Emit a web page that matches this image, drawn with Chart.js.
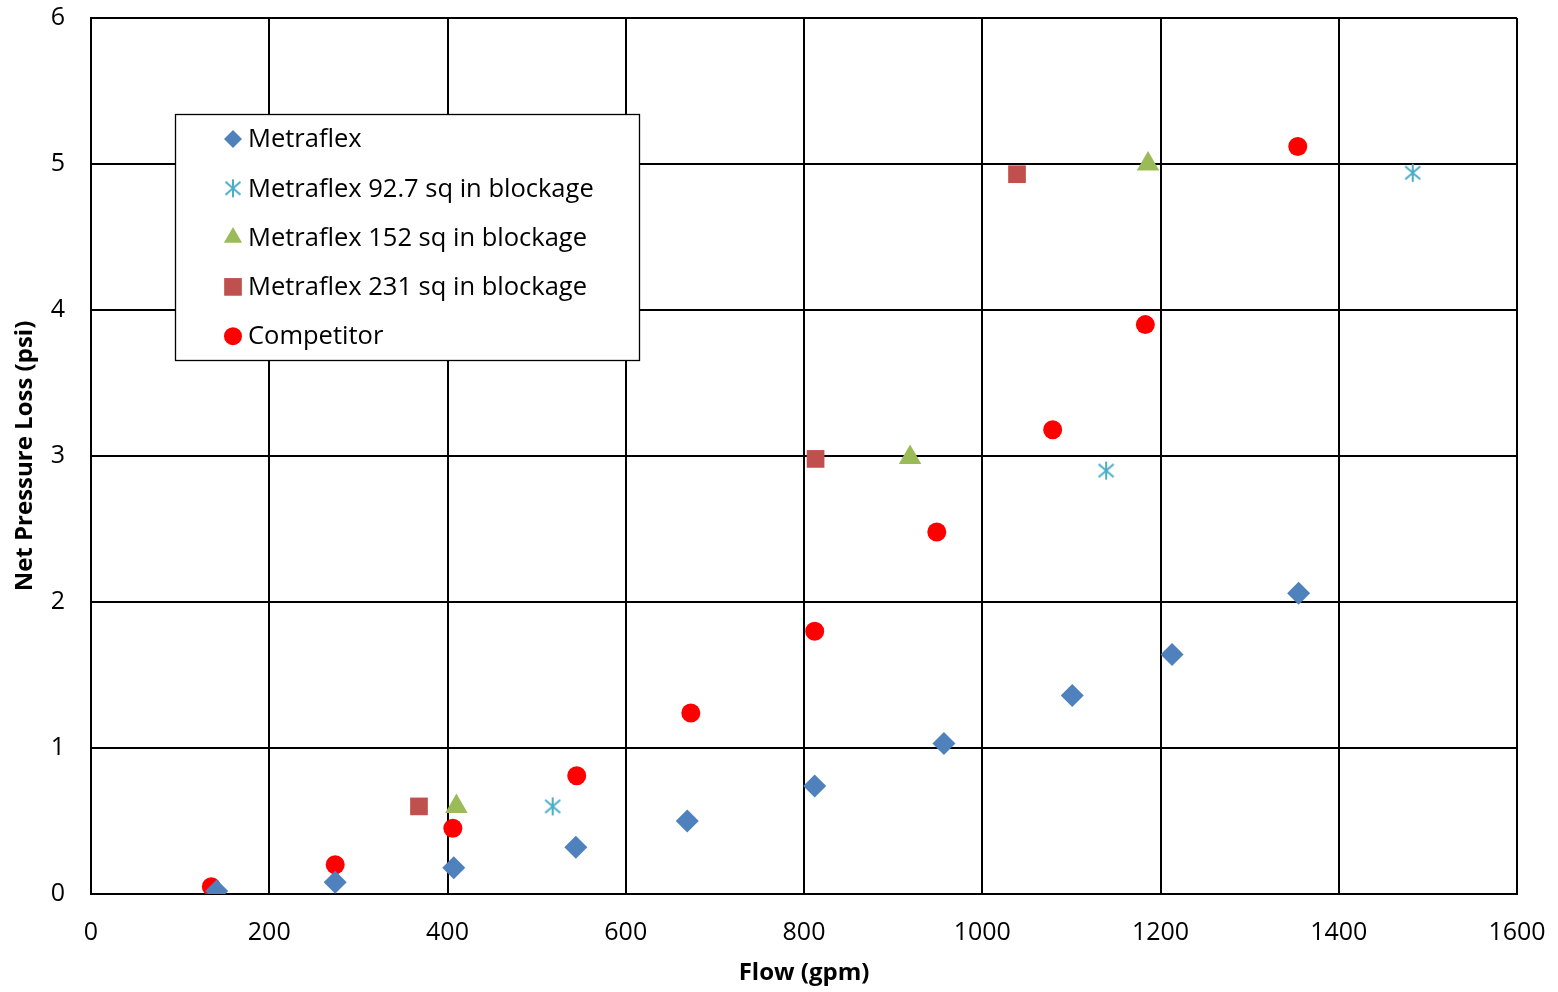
<!DOCTYPE html>
<html>
<head>
<meta charset="utf-8">
<script src="https://cdn.jsdelivr.net/npm/chart.js@4.4.1/dist/chart.umd.min.js"></script>
<style>
  html,body{margin:0;padding:0;background:#fff;}
  #wrap{width:1558px;height:992px;position:relative;}
</style>
</head>
<body>
<div id="wrap"><canvas id="c" width="1558" height="992"></canvas></div>
<script>
// flow (gpm) / net pressure loss (psi)
const metraflexFlow = [141, 274, 407, 544, 669, 812, 957, 1101, 1213, 1355];
const metraflexLoss = [0.02, 0.08, 0.18, 0.32, 0.50, 0.74, 1.03, 1.36, 1.64, 2.06];

const block93Flow = [518, 1139, 1483];
const block93Loss = [0.60, 2.90, 4.94];

const block152Flow = [410, 919, 1186];
const block152Loss = [0.60, 2.99, 5.00];

const block231Flow = [368, 813, 1039];
const block231Loss = [0.60, 2.98, 4.93];

const competitorFlow = [135, 274, 406, 545, 673, 812, 949, 1079, 1183, 1354];
const competitorLoss = [0.05, 0.20, 0.45, 0.81, 1.24, 1.80, 2.48, 3.18, 3.90, 5.12];

const xTicks = [0, 200, 400, 600, 800, 1000, 1200, 1400, 1600];
const yTicks = [0, 1, 2, 3, 4, 5, 6];

const FONT = '"Open Sans", "Liberation Sans", sans-serif';

function pts(xs, ys){ return xs.map((x,i)=>({x, y:ys[i]})); }

// excel style asterisk: vertical bar + an X
function asteriskImg(color){
  const cv = document.createElement('canvas');
  cv.width = 20; cv.height = 20;
  const g = cv.getContext('2d');
  g.strokeStyle = color; g.lineWidth = 2;
  g.beginPath();
  g.moveTo(10,1); g.lineTo(10,19);
  g.moveTo(2.5,3.5); g.lineTo(17.5,16.5);
  g.moveTo(17.5,3.5); g.lineTo(2.5,16.5);
  g.stroke();
  return cv;
}
const star = asteriskImg('#4BACC6');

function drawMarker(g, style, x, y, r, color){
  g.save();
  g.fillStyle = color;
  g.beginPath();
  if(style === 'rectRot'){
    g.moveTo(x, y-r); g.lineTo(x+r, y); g.lineTo(x, y+r); g.lineTo(x-r, y); g.closePath(); g.fill();
  } else if(style === 'rect'){
    const s = r*Math.SQRT1_2;
    g.rect(x-s, y-s, 2*s, 2*s); g.fill();
  } else if(style === 'triangle'){
    g.moveTo(x, y-r); g.lineTo(x+r*0.866, y+r*0.5); g.lineTo(x-r*0.866, y+r*0.5); g.closePath(); g.fill();
  } else if(style === 'circle'){
    g.arc(x, y, r, 0, Math.PI*2); g.fill();
  } else {
    g.drawImage(style, x-10, y-10);
  }
  g.restore();
}

const datasets = [
  {label:'Metraflex', data:pts(metraflexFlow, metraflexLoss), pointStyle:'rectRot', pointRadius:11.5, backgroundColor:'#4F81BD', borderWidth:0},
  {label:'Metraflex 92.7 sq in blockage', data:pts(block93Flow, block93Loss), pointStyle:star, pointRadius:10, backgroundColor:'#4BACC6', borderWidth:0},
  {label:'Metraflex 152 sq in blockage', data:pts(block152Flow, block152Loss), pointStyle:'triangle', pointRadius:13, backgroundColor:'#9BBB59', borderWidth:0},
  {label:'Metraflex 231 sq in blockage', data:pts(block231Flow, block231Loss), pointStyle:'rect', pointRadius:12.5, backgroundColor:'#C0504D', borderWidth:0},
  {label:'Competitor', data:pts(competitorFlow, competitorLoss), pointStyle:'circle', pointRadius:9.5, backgroundColor:'#FF0000', borderWidth:0}
];

// legend box drawn inside the plot area
const boxLegend = {
  id:'boxLegend',
  afterDraw(chart){
    const g = chart.ctx;
    const x0 = 175, y0 = 114, w = 464, h = 246;
    g.save();
    g.fillStyle = '#fff';
    g.fillRect(x0, y0, w, h);
    g.strokeStyle = '#000'; g.lineWidth = 1.3;
    g.strokeRect(x0+0.5, y0+0.5, w, h);
    g.font = '25.5px ' + FONT;
    g.fillStyle = '#000';
    g.textBaseline = 'middle';
    chart.data.datasets.forEach((ds, i)=>{
      const cy = y0 + 25 + i*49.3;
      const mr = ds.pointStyle === 'rect' ? 12.5 : (ds.pointStyle === 'triangle' ? 10.5 : 9);
      drawMarker(g, ds.pointStyle, 233, cy, mr, ds.backgroundColor);
      g.fillText(ds.label, 248, cy + 1);
    });
    g.restore();
  }
};

new Chart(document.getElementById('c'), {
  type:'scatter',
  data:{datasets},
  options:{
    responsive:false,
    animation:false,
    layout:{padding:{left:0, top:18, right:41, bottom:0}},
    plugins:{legend:{display:false}, tooltip:{enabled:false}},
    scales:{
      x:{
        type:'linear', min:0, max:1600,
        afterBuildTicks(s){ s.ticks = xTicks.map(v=>({value:v})); },
        afterFit(s){ s.height = 98; s.paddingLeft = 0; s.paddingRight = 0; },
        grid:{color:'#000', lineWidth:2, drawTicks:false},
        border:{color:'#000', width:2},
        ticks:{color:'#000', padding:24, font:{family:FONT, size:25}, maxRotation:0, callback:v=>String(v)},
        title:{display:true, text:'Flow (gpm)', color:'#000', font:{family:FONT, size:24, weight:'bold'}, padding:{top:2}}
      },
      y:{
        type:'linear', min:0, max:6,
        afterBuildTicks(s){ s.ticks = yTicks.map(v=>({value:v})); },
        afterFit(s){ s.width = 91; s.paddingTop = 0; s.paddingBottom = 0; },
        grid:{color:'#000', lineWidth:2, drawTicks:false},
        border:{color:'#000', width:2},
        ticks:{color:'#000', padding:26, font:{family:FONT, size:25}, callback:v=>String(v)},
        title:{display:true, text:'Net Pressure Loss (psi)', color:'#000', font:{family:FONT, size:24, weight:'bold'}, padding:{top:11, bottom:0}}
      }
    }
  },
  plugins:[boxLegend]
});
</script>
</body>
</html>
